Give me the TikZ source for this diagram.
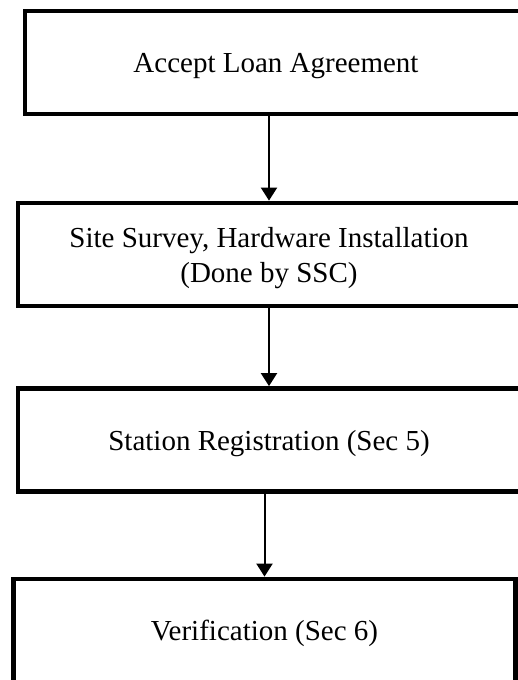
\documentclass[tikz,border=0pt]{standalone}
\usepackage{fontspec}
\setmainfont{Liberation Serif}
\usetikzlibrary{arrows.meta}
\begin{document}
\begin{tikzpicture}[x=1pt,y=-1pt,
  stepbox/.style={draw=black, line width=4.8pt, minimum width=502pt, minimum height=103pt,
    inner sep=0pt, align=center, fill=white, text depth=0pt, font=\fontsize{29}{35}\selectfont},
  arr/.style={draw=black, line width=2pt, -{Triangle[width=16pt,length=13pt]}}]
\useasboundingbox (0,0) rectangle (518,680);
\clip (0,0) rectangle (518,680);
\fill[white] (0,0) rectangle (518,680);
\node[stepbox] (b1) at (276,62.5) {Accept Loan Agreement};
\node[stepbox] (b2) at (269,254.5) {Site Survey, Hardware Installation\\(Done by SSC)};
\node[stepbox] (b3) at (269,440) {Station Registration (Sec 5)};
\node[stepbox] (b4) at (264.5,630.5) {Verification (Sec 6)};
\draw[arr] (b1.south -| b2.north) -- (b2.north);
\draw[arr] (b2.south) -- (b3.north);
\draw[arr] (b3.south -| b4.north) -- (b4.north);
\end{tikzpicture}
\end{document}
